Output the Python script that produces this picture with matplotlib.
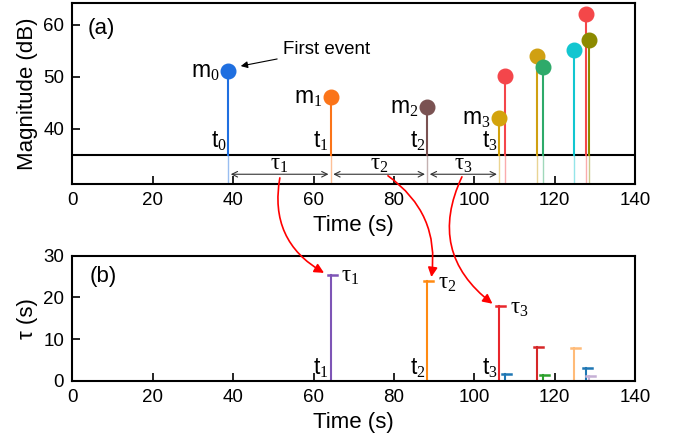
import matplotlib.pyplot as plt
from matplotlib.patches import ConnectionPatch

plt.rcParams['font.family'] = ['Liberation Sans', 'DejaVu Sans']
plt.rcParams['mathtext.fontset'] = 'custom'
plt.rcParams['mathtext.rm'] = 'Liberation Serif'
plt.rcParams['mathtext.it'] = 'Liberation Sans'
plt.rcParams['mathtext.sf'] = 'Liberation Sans'

# event times (s) and magnitudes (dB)
times = [38.8, 64.3, 88.3, 106.2, 107.7, 115.6, 117.0, 124.7, 127.7, 128.5]
mags = [51.1, 46.1, 44.2, 42.1, 50.1, 54.1, 52.0, 55.1, 62.1, 57.1]
mag_colors = ['#1f6fe0', '#fb7419', '#7a5252', '#d3a30c', '#f4464b',
              '#d0a012', '#2eaa6a', '#12c6d0', '#f44749', '#8c8a00']
threshold = 35

# waiting times (s) of events 1..9
tau_times = times[1:]
taus = [25.5, 23.9, 18.0, 1.6, 8.0, 1.5, 7.8, 3.1, 1.1]
tau_colors = ['#7e55b6', '#ff8a12', '#e8262c', '#1f77b4', '#d62728',
              '#2ca02c', '#ffbb78', '#1f77b4', '#c5b0d5']

xticks = [0, 20, 40, 60, 80, 100, 120, 140]

fig = plt.figure(figsize=(6.83, 4.48), dpi=100)
ax1 = fig.add_axes([0.106, 0.589, 0.824, 0.404])
ax2 = fig.add_axes([0.106, 0.150, 0.824, 0.279])

ymin_a = 29.4

# ---- panel (a)
for t, m, c in zip(times, mags, mag_colors):
    ax1.plot([t, t], [threshold, m], color=c, lw=1.5, zorder=2)
    ax1.plot([t, t], [ymin_a, threshold], color=c, lw=1.0, alpha=0.45, zorder=2)
    ax1.plot(t, m, 'o', color=c, ms=10.5, zorder=3)
ax1.axhline(threshold, color='black', lw=1.5, zorder=1)

for i in range(4):
    ax1.text(times[i] - 2.3, mags[i], r'$m_{%d}$' % i, fontsize=16.5,
             ha='right', va='center')
    ax1.text(times[i] - 0.5, threshold + 0.4, r'$t_{%d}$' % i, fontsize=16.5,
             ha='right', va='bottom')

for i in range(3):
    ax1.annotate('', xy=(times[i] + 0.6, 31.3), xytext=(times[i + 1] - 0.6, 31.3),
                 arrowprops=dict(arrowstyle='<->', color='#333333', lw=0.8,
                                 shrinkA=0, shrinkB=0))
    ax1.text((times[i] + times[i + 1]) / 2, 33.3, r'$\mathrm{\tau_{%d}}$' % (i + 1),
             fontsize=16.5, ha='center', va='center')

ax1.annotate('First event', xy=(times[0] + 2.4, mags[0] + 0.9),
             xytext=(52.3, 55.3), fontsize=13.5, ha='left', va='center',
             arrowprops=dict(arrowstyle='-|>', color='black', lw=0.8,
                             mutation_scale=10, shrinkA=2, shrinkB=2))
ax1.text(0.027, 0.858, '(a)', transform=ax1.transAxes, fontsize=16, va='center')

ax1.set_xlim(0, 140)
ax1.set_ylim(ymin_a, 64.2)
ax1.set_yticks([40, 50, 60])
ax1.set_xticks(xticks)
ax1.set_xlabel('Time (s)', fontsize=16, labelpad=4)
ax1.set_ylabel('Magnitude (dB)', fontsize=16, labelpad=4)

# ---- panel (b)
for t, tau, c in zip(tau_times, taus, tau_colors):
    ax2.plot([t, t], [0, tau], color=c, lw=1.5)
    ax2.plot([t - 0.75, t + 1.5], [tau, tau], color=c, lw=1.8)

for i in range(3):
    ax2.text(tau_times[i] + 2.6, taus[i] - 0.3, r'$\mathrm{\tau_{%d}}$' % (i + 1),
             fontsize=16.5, ha='left', va='center')
    ax2.text(tau_times[i] - 0.5, 0.3, r'$t_{%d}$' % (i + 1), fontsize=16.5,
             ha='right', va='bottom')
ax2.text(0.031, 0.832, '(b)', transform=ax2.transAxes, fontsize=16, va='center')

ax2.set_xlim(0, 140)
ax2.set_ylim(0, 30)
ax2.set_yticks([0, 10, 20, 30])
ax2.set_xticks(xticks)
ax2.set_xlabel('Time (s)', fontsize=16, labelpad=4)
ax2.set_ylabel('τ (s)', fontsize=16, labelpad=4)

for ax in (ax1, ax2):
    ax.tick_params(direction='in', length=6, width=1.2, labelsize=13.5, pad=6)
    for s in ax.spines.values():
        s.set_linewidth(1.5)

# red curved arrows linking tau intervals to panel (b)
starts = [(51.6, 30.6), (78.5, 31.0), (96.9, 30.8)]
ends = [(tau_times[0] - 1.7, taus[0] + 0.4), (tau_times[1] + 1.0, taus[1] + 1.0),
        (tau_times[2] - 1.7, taus[2] + 0.5)]
rads = [0.35, -0.3, 0.4]
for (xa, ya), (xb, yb), r in zip(starts, ends, rads):
    con = ConnectionPatch(xyA=(xa, ya), coordsA=ax1.transData,
                          xyB=(xb, yb), coordsB=ax2.transData,
                          arrowstyle='-|>', color='red', lw=1.2,
                          mutation_scale=14, connectionstyle='arc3,rad=%s' % r)
    fig.add_artist(con)

fig.savefig('out.png', dpi=100)
